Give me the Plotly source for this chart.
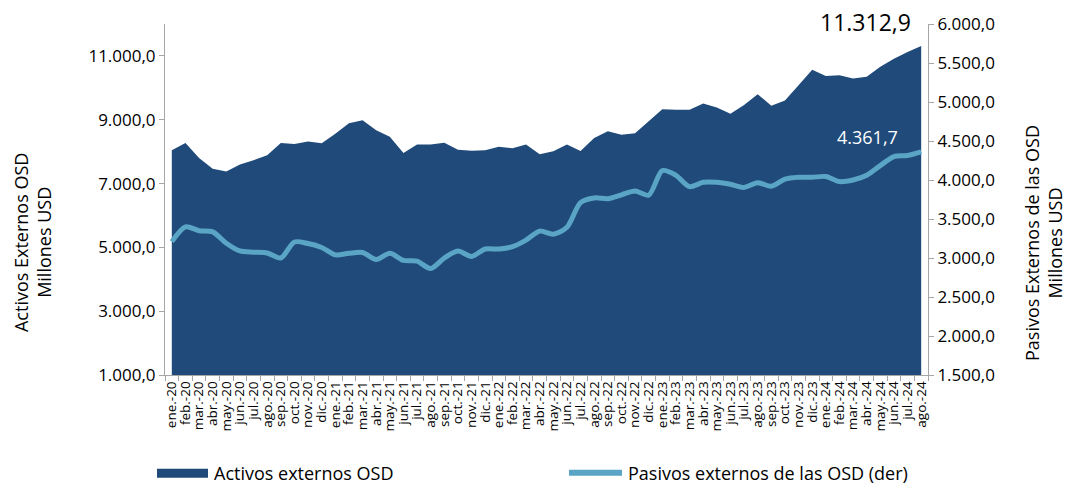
import plotly.graph_objects as go

# Month labels, ene.-20 through ago.-24
month_names = ["ene.", "feb.", "mar.", "abr.", "may.", "jun.",
               "jul.", "ago.", "sep.", "oct.", "nov.", "dic."]
years = ["20", "21", "22", "23", "24"]
months = [f"{m}-{y}" for y in years for m in month_names][:56]

# Activos externos OSD (millones USD, eje izquierdo)
activos = [
    8040, 8270, 7800, 7460, 7380, 7600, 7730, 7890, 8270, 8240, 8320, 8260,
    8560, 8890, 8980, 8670, 8470, 7960, 8220, 8220, 8280, 8060, 8030, 8040,
    8150, 8110, 8220, 7920, 8010, 8220, 8020, 8430, 8640, 8530, 8580, 8950,
    9330, 9310, 9310, 9510, 9380, 9190, 9460, 9800, 9440, 9600, 10080, 10570,
    10370, 10390, 10290, 10350, 10660, 10910, 11120, 11312.9,
]

# Pasivos externos de las OSD (millones USD, eje derecho)
pasivos = [
    3210, 3400, 3350, 3335, 3190, 3090, 3075, 3065, 3000, 3205, 3185, 3135,
    3040, 3060, 3070, 2980, 3060, 2970, 2960, 2865, 3000, 3090, 3020, 3115,
    3115, 3145, 3230, 3345, 3305, 3395, 3710, 3770, 3760, 3810, 3860, 3805,
    4120, 4060, 3915, 3970, 3970, 3945, 3905, 3965, 3920, 4010, 4035, 4035,
    4045, 3980, 4000, 4060, 4185, 4300, 4315, 4361.7,
]

left_ticks = [1000, 3000, 5000, 7000, 9000, 11000]
right_ticks = [1500, 2000, 2500, 3000, 3500, 4000, 4500, 5000, 5500, 6000]

AREA = "#1F4A7A"
LINE = "#5AA5C5"
AXIS = "#A6A6A6"
FONT = "Open Sans"

W, H = 1075, 487
ML, MR, MT, MB = 165, 147, 16, 112
PW, PH = W - ML - MR, H - MT - MB


def px(x):
    return (x - ML) / PW


def py(y):
    return (H - MB - y) / PH


fig = go.Figure()
fig.add_trace(go.Scatter(
    x=months, y=activos, name="Activos externos OSD",
    mode="none", fill="tozeroy", fillcolor=AREA, yaxis="y",
))
fig.add_trace(go.Scatter(
    x=months, y=pasivos, name="Pasivos externos de las OSD (der)",
    mode="lines", line=dict(color=LINE, width=5, shape="spline", smoothing=0.8),
    yaxis="y2",
))

fmt = lambda v: f"{v:,.1f}".replace(",", "X").replace(".", ",").replace("X", ".")

fig.add_annotation(
    x=months[-1], y=activos[-1], xref="x", yref="y",
    text=fmt(activos[-1]), showarrow=False,
    xanchor="right", yanchor="bottom", xshift=-8, yshift=6,
    font=dict(family=FONT, size=23, color="#000000"),
)
fig.add_annotation(
    x=months[-1], y=pasivos[-1], xref="x", yref="y2",
    text=fmt(pasivos[-1]), showarrow=False,
    xanchor="right", yanchor="bottom", xshift=-21, yshift=1,
    font=dict(family=FONT, size=18, color="#FFFFFF"),
)

# Axis titles
fig.add_annotation(
    x=px(32), y=py(240), xref="paper", yref="paper",
    xanchor="center", yanchor="middle",
    text="Activos Externos OSD<br>Millones USD", textangle=-90,
    showarrow=False, font=dict(family=FONT, size=18, color="#000000"),
)
fig.add_annotation(
    x=px(1043), y=py(240), xref="paper", yref="paper",
    xanchor="center", yanchor="middle",
    text="Pasivos Externos de las OSD<br>Millones USD", textangle=-90,
    showarrow=False, font=dict(family=FONT, size=18, color="#000000"),
)

# Legend
fig.add_shape(type="rect", xref="paper", yref="paper",
              x0=px(157), x1=px(208), y0=py(480), y1=py(471),
              fillcolor=AREA, line=dict(width=0))
fig.add_shape(type="line", xref="paper", yref="paper",
              x0=px(569), x1=px(622), y0=py(475), y1=py(475),
              line=dict(color=LINE, width=6))
fig.add_annotation(x=px(212), y=py(475), xref="paper", yref="paper",
                   text="Activos externos OSD", showarrow=False,
                   xanchor="left", yanchor="middle",
                   font=dict(family=FONT, size=18, color="#000000"))
fig.add_annotation(x=px(626), y=py(475), xref="paper", yref="paper",
                   text="Pasivos externos de las OSD (der)", showarrow=False,
                   xanchor="left", yanchor="middle",
                   font=dict(family=FONT, size=18, color="#000000"))

fig.update_layout(
    width=W, height=H,
    margin=dict(l=ML, r=MR, t=MT, b=MB),
    paper_bgcolor="white", plot_bgcolor="white",
    showlegend=False,
    separators=",.",
    font=dict(family=FONT, color="#000000"),
    xaxis=dict(
        type="category", range=[-0.5, len(months) - 0.5],
        tickmode="linear", tick0=0, dtick=1,
        tickson="boundaries", ticks="outside", ticklen=5, tickcolor=AXIS,
        showline=True, linecolor=AXIS, linewidth=1, showgrid=False,
        tickangle=-90, tickfont=dict(family=FONT, size=13.5, color="#000000"),
        zeroline=False,
    ),
    yaxis=dict(
        range=[1000, 12000], tickvals=left_ticks, tickformat=",.1f",
        ticks="outside", ticklen=5, tickcolor=AXIS,
        showline=True, linecolor=AXIS, linewidth=1, showgrid=False,
        zeroline=False, tickfont=dict(family=FONT, size=17, color="#000000"),
    ),
    yaxis2=dict(
        range=[1500, 6000], tickvals=right_ticks, tickformat=",.1f",
        overlaying="y", side="right",
        ticks="outside", ticklen=5, tickcolor=AXIS,
        showline=True, linecolor=AXIS, linewidth=1, showgrid=False,
        zeroline=False, tickfont=dict(family=FONT, size=17, color="#000000"),
    ),
)

fig.write_html("out.html")
